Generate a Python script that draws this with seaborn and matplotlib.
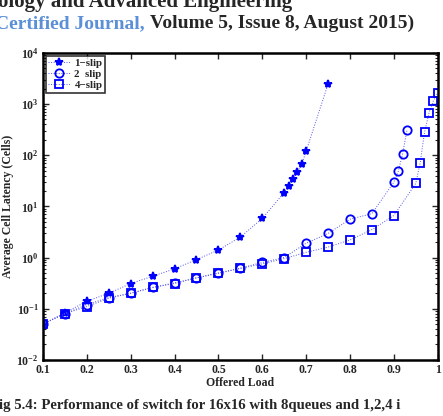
import numpy as np
import pandas as pd
import matplotlib
matplotlib.use('Agg')
import matplotlib.pyplot as plt
import seaborn as sns
from matplotlib.ticker import LogLocator, FixedLocator, NullFormatter

# --- data ---
load_1slip = [0.10, 0.15, 0.20, 0.25, 0.30, 0.35, 0.40, 0.45, 0.50, 0.55, 0.60,
              0.65, 0.66, 0.67, 0.68, 0.69, 0.70, 0.75]
lat_1slip = [0.05, 0.083, 0.14, 0.20, 0.31, 0.43, 0.60, 0.91, 1.4, 2.5, 5.8,
             18.6, 24.6, 33.8, 46.6, 66.8, 119, 2450]

load_2slip = [0.10, 0.15, 0.20, 0.25, 0.30, 0.35, 0.40, 0.45, 0.50, 0.55, 0.60,
              0.65, 0.70, 0.75, 0.80, 0.85, 0.90, 0.91, 0.92, 0.93]
lat_2slip = [0.05, 0.08, 0.12, 0.165, 0.20, 0.26, 0.32, 0.40, 0.50, 0.62, 0.80,
             1.0, 1.9, 2.95, 5.6, 7.2, 29.6, 48, 105, 310]

load_4slip = [0.10, 0.15, 0.20, 0.25, 0.30, 0.35, 0.40, 0.45, 0.50, 0.55, 0.60,
              0.65, 0.70, 0.75, 0.80, 0.85, 0.90, 0.95, 0.96, 0.97, 0.98, 0.99, 1.00]
lat_4slip = [0.05, 0.08, 0.11, 0.16, 0.20, 0.26, 0.31, 0.40, 0.49, 0.61, 0.75,
             0.95, 1.26, 1.6, 2.2, 3.5, 6.6, 28, 70, 280, 660, 1150, 1650]

series = [
    ('1\u2212slip', load_1slip, lat_1slip, '*', 'blue', 6),
    ('2  slip', load_2slip, lat_2slip, 'o', 'none', 6),
    ('4\u2212slip', load_4slip, lat_4slip, 's', 'none', 5.5),
]

sns.set_style('ticks')
plt.rcParams['font.family'] = ['Liberation Serif', 'DejaVu Serif']
plt.rcParams['font.weight'] = 'bold'

fig = plt.figure(figsize=(4.43, 4.16), dpi=100)
ax = fig.add_axes([0.097, 0.135, 0.891, 0.738])

for name, xs, ys, mk, fc, ms in series:
    df = pd.DataFrame({'load': xs, 'lat': ys})
    sns.lineplot(data=df, x='load', y='lat', ax=ax, color='blue', linestyle=':',
                 linewidth=0.7, marker=mk, markersize=ms,
                 markerfacecolor=fc, markeredgecolor='blue', markeredgewidth=1.3,
                 label=name)

for ln in ax.get_lines():
    ln.set_linestyle(':')
    ln.set_color('#5555ee')
    ln.set_markeredgecolor('blue')
    if ln.get_marker() == '*':
        ln.set_markerfacecolor('blue')

ax.set_yscale('log')
ax.set_xlim(0.1, 1.0)
ax.set_ylim(1e-2, 1e4)
ax.xaxis.set_major_locator(FixedLocator(np.arange(0.1, 1.01, 0.1)))
ax.set_xticklabels(['0.1', '0.2', '0.3', '0.4', '0.5', '0.6', '0.7', '0.8', '0.9', '1'])
ax.yaxis.set_major_locator(LogLocator(base=10, numticks=10))
ax.yaxis.set_minor_locator(LogLocator(base=10, subs=np.arange(2, 10), numticks=20))
ax.yaxis.set_minor_formatter(NullFormatter())

ax.tick_params(which='both', direction='in', top=True, right=True, labelsize=8.5, pad=3)
ax.tick_params(which='major', length=4, width=1)
ax.tick_params(which='minor', length=2, width=0.8)
for lab in ax.get_xticklabels() + ax.get_yticklabels():
    lab.set_fontweight('bold')
for sp in ax.spines.values():
    sp.set_linewidth(1.8)
    sp.set_color('black')

ax.set_xlabel('Offered Load', fontsize=8.5, fontweight='bold', labelpad=1)
ax.set_ylabel('Average Cell Latency (Cells)', fontsize=8.5, fontweight='bold', labelpad=2)

leg = ax.legend(loc='upper left', fontsize=7.8, frameon=True, fancybox=False,
                borderpad=0.25, labelspacing=0.15, handlelength=2.0, handletextpad=0.4,
                borderaxespad=0.25)
leg.get_frame().set_edgecolor('black')
leg.get_frame().set_linewidth(1.2)

# page text around the figure
fig.text(-0.005, 1.02, 'ology and Advanced Engineering', fontsize=15, fontweight='bold',
         va='top', ha='left')
t1 = fig.text(-0.012, 0.932, 'Certified Journal,', fontsize=14, fontweight='bold',
              color='#5b8fd6', va='baseline', ha='left')
fig.canvas.draw()
bb = t1.get_window_extent().transformed(fig.transFigure.inverted())
fig.text(bb.x1 + 0.012, 0.932, 'Volume 5, Issue 8, August 2015)', fontsize=14,
         fontweight='bold', va='baseline', ha='left')
fig.text(-0.022, 0.018, 'Fig 5.4: Performance of switch for 16x16 with 8queues and 1,2,4 i',
         fontsize=10.6, fontweight='bold', va='baseline', ha='left')

fig.savefig('out.png', dpi=100)
